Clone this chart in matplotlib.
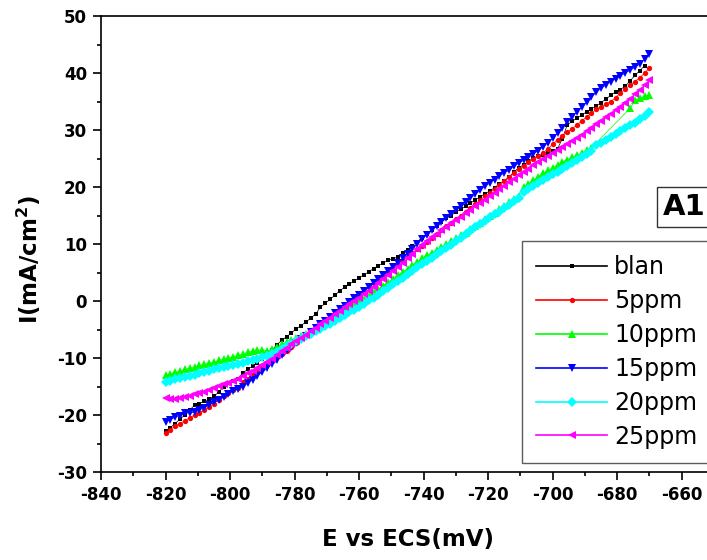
import numpy as np
import matplotlib
matplotlib.use("Agg")
import matplotlib.pyplot as plt
from matplotlib.ticker import MultipleLocator

plt.rcParams['font.family'] = ['DejaVu Sans']
plt.rcParams['axes.unicode_minus'] = False

# potential grid, mV vs ECS
E = np.linspace(-820, -670, 101)

blan = [-22.8, -22.2, -21.5, -20.7, -20.0, -19.1, -18.3, -18.0, -17.6, -17.2,
        -16.7, -16.0, -15.0, -14.4, -14.1, -13.6, -12.6, -12.0, -11.4, -10.8,
        -10.1, -9.4, -8.6, -7.7, -6.9, -6.3, -5.6, -4.9, -4.3, -3.7,
        -3.0, -2.3, -1.1, -0.4, 0.3, 1.0, 1.8, 2.4, 3.0, 3.5,
        4.1, 4.6, 5.1, 5.7, 6.2, 6.7, 7.2, 7.3, 7.8, 8.4,
        9.0, 9.7, 10.4, 11.1, 11.8, 12.5, 13.2, 13.9, 14.5, 15.0,
        15.6, 16.1, 16.6, 17.2, 17.7, 18.3, 18.8, 19.3, 19.9, 20.5,
        21.1, 21.8, 22.6, 23.4, 23.9, 24.5, 25.1, 25.4, 25.7, 26.0,
        26.3, 26.7, 28.5, 30.9, 31.5, 32.1, 32.6, 33.2, 33.7, 34.2,
        34.8, 35.4, 36.1, 36.7, 37.1, 37.7, 38.6, 39.6, 40.4, 41.3,
        np.nan]

ppm5 = [-23.2, -22.6, -21.9, -21.5, -21.0, -20.5, -20.0, -19.6, -19.1, -18.6,
        -18.0, -17.3, -16.7, -16.1, -15.7, -15.2, -14.2, -13.6, -12.9, -12.3,
        -11.6, -11.0, -10.5, -9.9, -9.3, -8.7, -8.0, -7.4, -6.7, -6.1,
        -5.4, -4.8, -4.2, -3.5, -2.9, -2.3, -1.6, -0.9, -0.3, 0.4,
        1.1, 1.7, 2.4, 3.1, 3.7, 4.4, 5.1, 5.7, 6.4, 7.1,
        7.7, 8.4, 9.1, 9.7, 10.4, 11.1, 11.7, 12.4, 13.1, 13.7,
        14.4, 15.0, 15.7, 16.4, 17.0, 17.7, 18.4, 19.0, 19.7, 20.4,
        21.0, 21.7, 22.4, 23.1, 23.7, 24.4, 24.9, 25.4, 26.0, 26.7,
        27.5, 28.3, 29.0, 29.6, 30.2, 30.9, 31.6, 32.3, 33.0, 33.6,
        34.1, 34.5, 35.0, 35.7, 36.5, 37.2, 37.9, 38.5, 39.2, 40.0,
        40.9]

ppm10 = [-13.0, -12.8, -12.5, -12.3, -12.0, -11.8, -11.6, -11.3, -11.1, -10.9,
         -10.7, -10.4, -10.2, -10.0, -9.8, -9.5, -9.3, -9.0, -8.8, -8.6,
         -8.6, -8.7, -8.5, -8.1, -7.6, -7.2, -6.8, -6.5, -6.2, -5.8,
         -5.3, -4.8, -4.3, -3.8, -3.3, -2.8, -2.3, -1.8, -1.2, -0.7,
         -0.2, 0.4, 0.9, 1.5, 2.1, 2.7, 3.3, 3.9, 4.5, 5.1,
         5.7, 6.3, 6.9, 7.5, 8.0, 8.5, 9.0, 9.5, 10.0, 10.5,
         11.0, 11.5, 12.0, 12.6, 13.1, 13.7, 14.3, 14.9, 15.5, 16.1,
         16.7, 17.3, 17.9, 18.5, 20.0, 20.6, 21.2, 21.8, 22.4, 22.9,
         23.4, 23.9, 24.4, 24.8, 25.2, 25.6, 26.0, 26.5, 26.9, np.nan,
         np.nan, np.nan, np.nan, np.nan, np.nan, np.nan, 33.8, 35.2, 35.6, 35.9,
         36.2]

ppm15 = [-21.2, -20.8, -20.4, -20.1, -19.7, -19.6, -19.5, -19.1, -18.7, -18.2,
         -17.8, -17.4, -16.9, -16.4, -15.8, -15.4, -15.0, -14.4, -13.8, -13.1,
         -12.5, -11.8, -11.1, -10.3, -9.4, -8.6, -8.0, -7.4, -6.7, -6.1,
         -5.4, -4.8, -4.1, -3.5, -2.8, -2.1, -1.4, -0.8, -0.2, 0.5,
         1.1, 1.7, 2.4, 3.1, 3.8, 4.5, 5.2, 5.9, 6.7, 7.5,
         8.3, 9.1, 10.0, 10.8, 11.6, 12.4, 13.1, 13.8, 14.5, 15.2,
         15.9, 16.6, 17.3, 18.0, 18.7, 19.4, 20.1, 20.7, 21.3, 21.9,
         22.5, 22.9, 23.6, 24.2, 24.7, 25.2, 25.8, 26.4, 27.0, 27.8,
         28.6, 29.5, 30.3, 31.4, 32.3, 33.2, 34.0, 34.9, 35.8, 36.6,
         37.3, 37.9, 38.5, 39.0, 39.5, 40.0, 40.5, 41.0, 41.6, 42.5,
         43.4]

ppm20 = [-14.2, -14.0, -13.7, -13.5, -13.3, -13.1, -12.9, -12.7, -12.5, -12.3,
         -12.0, -11.8, -11.6, -11.4, -11.2, -11.0, -10.8, -10.5, -10.3, -10.1,
         -9.9, -9.6, -9.3, -8.9, -8.4, -7.9, -7.5, -7.1, -6.7, -6.2,
         -5.8, -5.3, -4.9, -4.4, -4.0, -3.5, -3.0, -2.5, -2.0, -1.5,
         -1.0, -0.5, 0.1, 0.6, 1.1, 1.7, 2.3, 2.9, 3.5, 4.1,
         4.7, 5.3, 5.9, 6.5, 7.0, 7.6, 8.2, 8.8, 9.3, 9.9,
         10.5, 11.1, 11.7, 12.3, 12.9, 13.5, 14.1, 14.7, 15.2, 15.7,
         16.3, 16.9, 17.5, 18.1, 19.1, 19.7, 20.2, 20.7, 21.2, 21.7,
         22.2, 22.7, 23.2, 23.7, 24.2, 24.7, 25.2, 25.8, 26.3, 27.3,
         27.8, 28.3, 28.8, 29.3, 29.8, 30.3, 30.8, 31.3, 31.9, 32.5,
         33.1]

ppm25 = [-17.0, -17.2, -17.2, -17.0, -16.8, -16.6, -16.3, -16.1, -15.9, -15.6,
         -15.3, -14.9, -14.6, -14.3, -14.0, -13.6, -13.2, -12.7, -12.2, -11.7,
         -11.2, -10.7, -10.1, -9.5, -8.8, -8.2, -7.6, -7.0, -6.5, -5.9,
         -5.3, -4.7, -4.1, -3.5, -2.9, -2.3, -1.7, -1.1, -0.5, 0.0,
         0.6, 1.2, 1.8, 2.5, 3.2, 3.8, 4.5, 5.2, 5.9, 6.7,
         7.5, 8.3, 9.1, 9.9, 10.6, 11.2, 11.8, 12.4, 13.0, 13.6,
         14.2, 14.8, 15.4, 16.0, 16.6, 17.2, 17.8, 18.4, 19.0, 19.6,
         20.2, 20.8, 21.4, 22.1, 22.6, 23.2, 23.8, 24.4, 25.0, 25.5,
         26.0, 26.5, 27.0, 27.5, 28.0, 28.6, 29.2, 29.8, 30.4, 31.0,
         31.6, 32.2, 32.8, 33.5, 34.1, 34.8, 35.5, 36.3, 37.1, 37.9,
         38.8]

labels = ['blan', '5ppm', '10ppm', '15ppm', '20ppm', '25ppm']
colors = ['black', '#ff0000', '#00ff00', '#0000ff', '#00ffff', '#ff00ff']
markers = ['s', 'o', '^', 'v', 'D', '<']
msizes = [3.2, 3.8, 5.5, 5.5, 4.6, 5.5]
series = [blan, ppm5, ppm10, ppm15, ppm20, ppm25]

fig = plt.figure(figsize=(7.07, 5.6), dpi=100)
ax = fig.add_axes([101 / 707, 88 / 560, 613 / 707, 456 / 560])

handles = []
for y, lab, c, m, ms in zip(series, labels, colors, markers, msizes):
    y = np.asarray(y, dtype=float)
    ok = ~np.isnan(y)
    h, = ax.plot(E[ok], y[ok], color=c, marker=m, markersize=ms, lw=0.5,
                 markeredgewidth=0, label=lab)
    handles.append(h)

ax.set_xlim(-840, -650)
ax.set_ylim(-30, 50)
ax.xaxis.set_major_locator(MultipleLocator(20))
ax.xaxis.set_minor_locator(MultipleLocator(10))
ax.yaxis.set_major_locator(MultipleLocator(10))
ax.yaxis.set_minor_locator(MultipleLocator(5))
ax.tick_params(which='both', direction='out', width=1.2, top=False, right=False)
ax.tick_params(which='major', length=6, labelsize=12, pad=4)
ax.tick_params(which='minor', length=3)
for lbl in ax.get_xticklabels() + ax.get_yticklabels():
    lbl.set_fontweight('bold')
for s in ax.spines.values():
    s.set_linewidth(1.2)
ax.spines['right'].set_visible(False)

ax.set_xlabel('E vs ECS(mV)', fontsize=16.5, fontweight='bold')
ax.set_ylabel('I(mA/cm$\\mathbf{^2}$)', fontsize=16.5, fontweight='bold')
ax.xaxis.set_label_coords(0.5, -0.122)
ax.yaxis.set_label_coords(-0.094, 0.465)

leg = fig.legend(handles=handles, loc='upper left',
                 bbox_to_anchor=(522 / 707, 1 - 241 / 560), borderaxespad=0,
                 fancybox=False, edgecolor='#333333', fontsize=17,
                 handlelength=3.0, handletextpad=0.3, labelspacing=0.42,
                 borderpad=0.6, numpoints=1)
leg.get_frame().set_linewidth(1.0)
for lh in leg.get_lines():
    lh.set_linewidth(1.2)

fig.text(663 / 707, 1 - 207 / 560, 'A1', fontsize=21, fontweight='bold',
         va='center', ha='left',
         bbox=dict(boxstyle='square,pad=0.2', fc='white', ec='#333333', lw=1.0))

fig.savefig('out.png', dpi=100)
